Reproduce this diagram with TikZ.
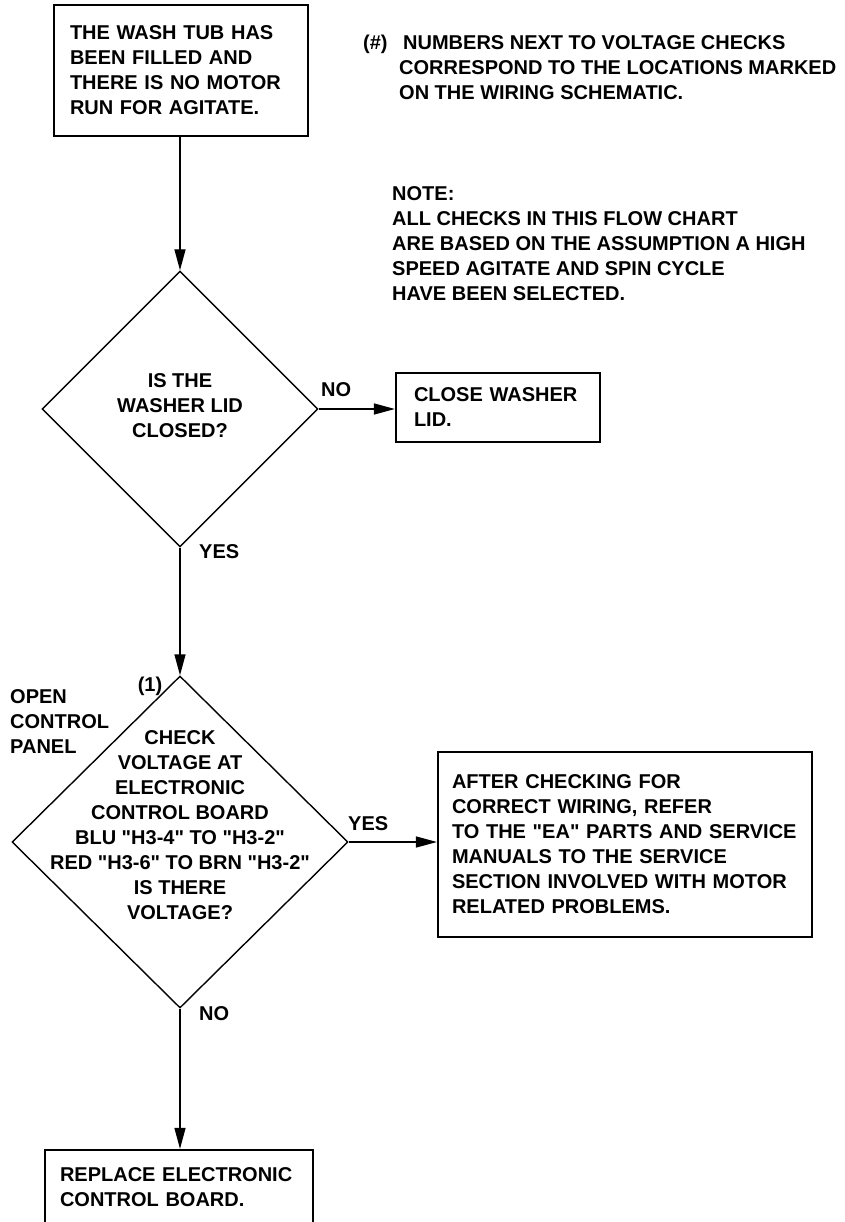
\documentclass[tikz,border=0pt]{standalone}
\usepackage{fontspec}
\setmainfont{Liberation Sans}[Ligatures=TeXOff]
\usetikzlibrary{shapes.geometric,arrows.meta}
\begin{document}
\begin{tikzpicture}[x=1pt,y=-1pt,
 every node/.style={font=\fontsize{20}{25}\selectfont\bfseries},
 box/.style={draw, line width=2.2pt, inner sep=0pt, align=left},
 diam/.style={draw, diamond, line width=1.4pt, inner sep=0pt, aspect=1},
 arr/.style={line width=1.4pt, -{Triangle[length=21pt,width=11pt]}},
 lbl/.style={inner sep=0pt, anchor=west, align=left}]
\useasboundingbox (0,0) rectangle (844,1222);
\node[box, minimum width=254pt, minimum height=131pt, text width=222pt] (start) at (181,70.5)
  {THE WASH TUB HAS\\BEEN FILLED AND\\THERE IS NO MOTOR\\RUN FOR AGITATE.};
\node[diam, minimum width=276pt, minimum height=276pt] (lid) at (180,409) {};
\node[align=center, inner sep=0pt] (lidtext) at (180,406) {IS THE\\WASHER LID\\CLOSED?};
\node[box, minimum width=204pt, minimum height=69pt, text width=168pt] (close) at (498,407.5)
  {CLOSE WASHER\\LID.};
\node[diam, minimum width=336pt, minimum height=332pt] (volt) at (180,842) {};
\node[align=center, inner sep=0pt] (volttext) at (180,825)
  {CHECK\\VOLTAGE AT\\ELECTRONIC\\CONTROL BOARD\\BLU "H3-4" TO "H3-2"\\RED "H3-6" TO BRN "H3-2"\\IS THERE\\VOLTAGE?};
\node[box, minimum width=374pt, minimum height=185pt, text width=346pt] (after) at (625,844.5)
  {AFTER CHECKING FOR\\CORRECT WIRING, REFER\\TO THE "EA" PARTS AND SERVICE\\MANUALS TO THE SERVICE\\SECTION INVOLVED WITH MOTOR\\RELATED PROBLEMS.};
\node[box, minimum width=268pt, minimum height=74pt, text width=238pt] (replace) at (179,1187)
  {REPLACE ELECTRONIC\\CONTROL BOARD.};
\draw[arr] (start.south -| lid.north) -- (lid.north);
\draw[arr] (lid.east) -- (lid.east -| close.west);
\draw[arr] (lid.south) -- (volt.north);
\draw[arr] (volt.east) -- (volt.east -| after.west);
\draw[arr] (volt.south) -- (volt.south |- replace.north);
\node[lbl] (no1) at (321,390) {NO};
\node[lbl] (yes1) at (199,552) {YES};
\node[inner sep=0pt] (one) at (150,686) {(1)};
\node[lbl] (open) at (10,722) {OPEN\\CONTROL\\PANEL};
\node[lbl] (yes2) at (348,824) {YES};
\node[lbl] (no2) at (199,1014) {NO};
\node[inner sep=0pt, align=left, anchor=north west] (legend) at (363,35)
  {\makebox[40pt][l]{(\#)}NUMBERS NEXT TO VOLTAGE CHECKS\\\hspace*{36pt}CORRESPOND TO THE LOCATIONS MARKED\\\hspace*{36pt}ON THE WIRING SCHEMATIC.};
\node[inner sep=0pt, align=left, anchor=north west] (note) at (392,186)
  {NOTE:\\ALL CHECKS IN THIS FLOW CHART\\ARE BASED ON THE ASSUMPTION A HIGH\\SPEED AGITATE AND SPIN CYCLE\\HAVE BEEN SELECTED.};
\end{tikzpicture}
\end{document}
